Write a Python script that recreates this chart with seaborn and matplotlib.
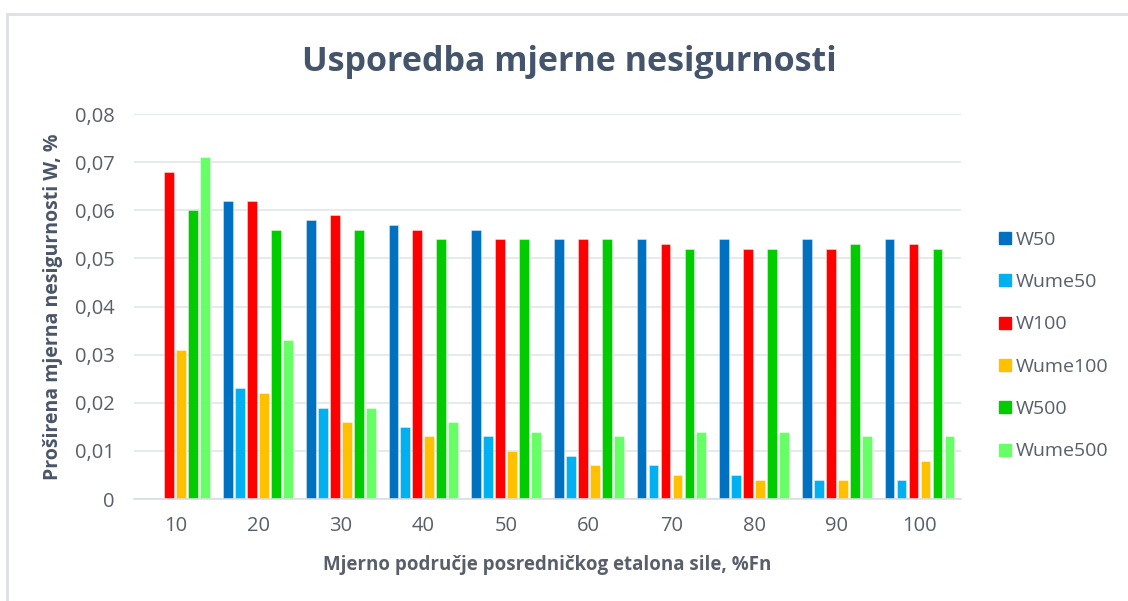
import matplotlib
matplotlib.use("Agg")
import matplotlib.pyplot as plt
import seaborn as sns
import pandas as pd
from matplotlib.ticker import FuncFormatter, MultipleLocator
from matplotlib.lines import Line2D

categories = ["10", "20", "30", "40", "50", "60", "70", "80", "90", "100"]
series_names = ["W50", "Wume50", "W100", "Wume100", "W500", "Wume500"]
W50 = [0.0, 0.062, 0.058, 0.057, 0.056, 0.054, 0.054, 0.054, 0.054, 0.054]
Wume50 = [0.0, 0.023, 0.019, 0.015, 0.013, 0.009, 0.007, 0.005, 0.004, 0.004]
W100 = [0.068, 0.062, 0.059, 0.056, 0.054, 0.054, 0.053, 0.052, 0.052, 0.053]
Wume100 = [0.031, 0.022, 0.016, 0.013, 0.010, 0.007, 0.005, 0.004, 0.004, 0.008]
W500 = [0.060, 0.056, 0.056, 0.054, 0.054, 0.054, 0.052, 0.052, 0.053, 0.052]
Wume500 = [0.071, 0.033, 0.019, 0.016, 0.014, 0.013, 0.014, 0.014, 0.013, 0.013]
colors = ["#0070C0", "#00B0F0", "#FF0000", "#FFC000", "#00CC00", "#66FF66"]

values = [W50, Wume50, W100, Wume100, W500, Wume500]
rows = []
for name, vals in zip(series_names, values):
    for c, v in zip(categories, vals):
        rows.append({"cat": c, "series": name, "val": v})
df = pd.DataFrame(rows)

sns.set_theme(style="white")
plt.rcParams["font.family"] = ["Open Sans", "DejaVu Sans"]

fig = plt.figure(figsize=(11.28, 6.01), dpi=100)
ax = fig.add_axes([0.1188, 0.1697, 0.733, 0.6406])

sns.barplot(data=df, x="cat", y="val", hue="series", order=categories,
            hue_order=series_names, palette=colors, width=0.87, gap=0.18,
            ax=ax, legend=False, saturation=1)
for p in ax.patches:
    p.set_edgecolor((1, 1, 1, 0.45))
    p.set_linewidth(0.6)

ax.set_ylim(0, 0.08)
ax.set_xlim(-0.5, 9.5)
ax.yaxis.set_major_locator(MultipleLocator(0.01))
ax.yaxis.set_major_formatter(FuncFormatter(lambda v, p: "0" if abs(v) < 1e-9 else f"{v:.2f}".replace(".", ",")))
ax.grid(axis="y", color="#E3E6EA", linewidth=1.2)
ax.set_axisbelow(True)
for s in ["top", "right", "left"]:
    ax.spines[s].set_visible(False)
ax.spines["bottom"].set_color("#D9DDE3")
ax.spines["bottom"].set_linewidth(1.2)
ax.tick_params(axis="both", length=0, labelsize=14.5, colors="#595E6B")
ax.tick_params(axis="y", pad=14)
ax.tick_params(axis="x", pad=12)

ax.set_xlabel("Mjerno područje posredničkog etalona sile, %Fn", fontsize=13.5,
              fontweight="bold", color="#595E6B", labelpad=14)
ax.set_ylabel("Proširena mjerna nesigurnosti W, %", fontsize=14,
              fontweight="bold", color="#4A5568")
ax.yaxis.set_label_coords(-0.086, 0.5)

fig.text(0.505, 0.897, "Usporedba mjerne nesigurnosti", ha="center", va="center",
         fontsize=24.5, fontweight="bold", color="#44546A")

handles = [Line2D([0], [0], marker="s", linestyle="none", markersize=9,
                  markerfacecolor=c, markeredgecolor=c) for c in colors]
fig.legend(handles, series_names, loc="upper left", bbox_to_anchor=(0.867, 0.645),
           frameon=False, fontsize=14, labelspacing=1.25, handletextpad=0.05,
           handlelength=1.0, labelcolor="#595E6B")

# chart border
fig.add_artist(Line2D([7 / 1128, 7 / 1128], [0, 1 - 14 / 601], color="#DDE1E7",
                      linewidth=2, transform=fig.transFigure))
fig.add_artist(Line2D([7 / 1128, 1], [1 - 14 / 601, 1 - 14 / 601], color="#DDE1E7",
                      linewidth=2, transform=fig.transFigure))

fig.savefig("out.png", dpi=100, facecolor="white")
